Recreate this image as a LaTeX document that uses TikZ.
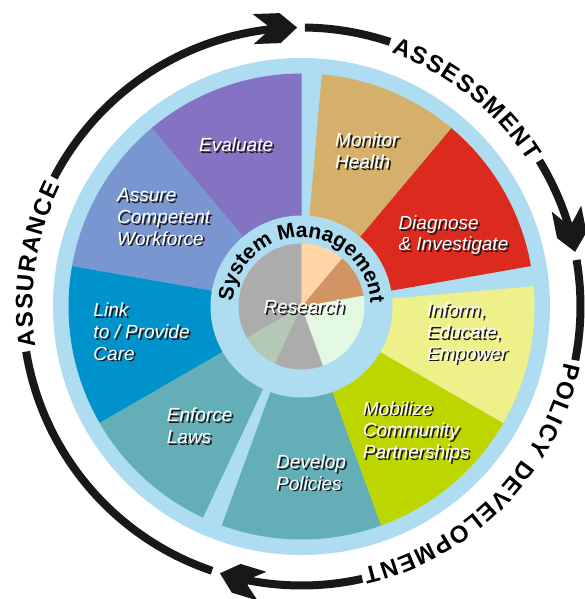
\documentclass[tikz,border=0pt]{standalone}
\usepackage{fontspec}
\setmainfont{Liberation Sans}
\usetikzlibrary{decorations.text}
\definecolor{ringblue}{RGB}{174,220,240}
\definecolor{cEval}{RGB}{132,114,194}
\definecolor{cAssure}{RGB}{122,150,208}
\definecolor{cLink}{RGB}{0,146,202}
\definecolor{cTeal}{RGB}{100,174,184}
\definecolor{cMob}{RGB}{190,214,0}
\definecolor{cInform}{RGB}{238,240,138}
\definecolor{cDiag}{RGB}{220,42,30}
\definecolor{cMon}{RGB}{212,176,106}
\definecolor{pGray}{RGB}{172,172,172}
\definecolor{pSage}{RGB}{180,200,182}
\definecolor{pGreen}{RGB}{226,248,224}
\definecolor{pBrown}{RGB}{210,148,98}
\definecolor{pPeach}{RGB}{255,214,166}
\definecolor{arrowblack}{RGB}{24,24,24}
\newcommand\mywedge[4]{\fill[#1] (0,0) -- (#2:#4) arc[start angle=#2, end angle=#3, radius=#4] -- cycle;}
\newcommand\lines[1]{\begin{tabular}[t]{@{}l@{}}#1\end{tabular}}
\newcommand\shlabel[3]{%
  \node[lbl] (#1) at (#2)
   {\rlap{\hspace{1.8pt}\raisebox{-1.8pt}{\color{black!90}\lines{#3}}}\lines{#3}};}
\newcommand\arcfont{\fontsize{24}{24}\selectfont\bfseries}
\newcommand\smfont{\fontsize{21}{21}\selectfont\bfseries}
\tikzset{
  lbl/.style={anchor=base west, inner sep=0pt, text=white, font=\fontsize{19}{21.7}\selectfont\itshape},
  arcline/.style={draw=arrowblack, line width=8pt},
  headpic/.pic={\fill[arrowblack] (0pt,0pt) -- (-17pt,15pt) -- (-44pt,15pt) -- (-30pt,3.5pt)
     -- (-30pt,-3.5pt) -- (-44pt,-15pt) -- (-17pt,-15pt) -- cycle;},
}
\begin{document}
\begin{tikzpicture}[x=1pt,y=1pt]
\useasboundingbox (-301.5,-292.5) rectangle (282.5,306.5);
% outer ring
\fill[ringblue] (0,0) circle[radius=248.5pt];
% wedges
\mywedge{cEval}{90}{130}{233pt}
\mywedge{cAssure}{130}{170}{233pt}
\mywedge{cLink}{170}{210}{233pt}
\mywedge{cTeal}{210}{245}{233pt}
\mywedge{cTeal}{250}{290}{233pt}
\mywedge{cMob}{290}{330}{233pt}
\mywedge{cInform}{330}{365}{233pt}
\mywedge{cDiag}{10}{50}{233pt}
\mywedge{cMon}{50}{85}{233pt}
% inner ring
\fill[ringblue] (0,0) circle[radius=91pt];
% research pie
\mywedge{pGray}{90}{210}{63pt}
\mywedge{pSage}{210}{245}{63pt}
\mywedge{pGray}{245}{290}{63pt}
\mywedge{pGreen}{290}{370}{63pt}
\mywedge{pBrown}{10}{50}{63pt}
\mywedge{pPeach}{50}{90}{63pt}
% labels
\shlabel{eval}{-102.5,154.5}{Evaluate}
\shlabel{assure}{-184.5,104.8}{Assure\\Competent\\Workforce}
\shlabel{monitor}{33.5,159.8}{Monitor\\Health}
\shlabel{diag}{96.8,77.2}{Diagnose\\\& Investigate}
\shlabel{inform}{125.2,-10.2}{Inform,\\Educate,\\Empower}
\shlabel{mobil}{61.2,-108.5}{Mobilize\\Community\\Partnerships}
\shlabel{develop}{-25.5,-161.8}{Develop\\Policies}
\shlabel{enforce}{-134.8,-115.2}{Enforce\\Laws}
\shlabel{link}{-208.2,-10.2}{Link\\to / Provide\\Care}
\shlabel{research}{-38.2,-6.8}{Research}
% System Management
\path[decorate, decoration={text along path, text={|\smfont|System Management}, text align={fit to path}}]
  (176:69pt) arc[start angle=176, end angle=4, radius=69pt];
% outer cycle arrows
\draw[arcline] (89.3:279pt) arc[start angle=89.3, end angle=71.5, radius=279pt];
\draw[arcline] (31.5:279pt) arc[start angle=31.5, end angle=15.3, radius=279pt];
\pic[rotate=-78.7] at (11.3:279pt) {headpic};
\draw[arcline] (9.6:279pt) arc[start angle=9.6, end angle=-11.1, radius=279pt];
\draw[arcline] (-77.4:279pt) arc[start angle=-77.4, end angle=-103, radius=279pt];
\pic[rotate=163] at (253:279pt) {headpic};
\draw[arcline] (251.3:279pt) arc[start angle=251.3, end angle=189.3, radius=279pt];
\draw[arcline] (152.5:279pt) arc[start angle=152.5, end angle=94.9, radius=279pt];
\pic[rotate=2] at (90.9:279pt) {headpic};
% arc texts
\path[decorate, decoration={text along path, text={|\arcfont|ASSESSMENT}, text align={fit to path}}]
  (70.5:269pt) arc[start angle=70.5, end angle=32.5, radius=269pt];
\path[decorate, decoration={text along path, text={|\arcfont|POLICY DEVELOPMENT}, text align={fit to path}}]
  (-12:269pt) arc[start angle=-12, end angle=-76.8, radius=269pt];
\path[decorate, decoration={text along path, text={|\arcfont|ASSURANCE}, text align={fit to path}}]
  (188.5:269pt) arc[start angle=188.5, end angle=153.5, radius=269pt];
\end{tikzpicture}
\end{document}
